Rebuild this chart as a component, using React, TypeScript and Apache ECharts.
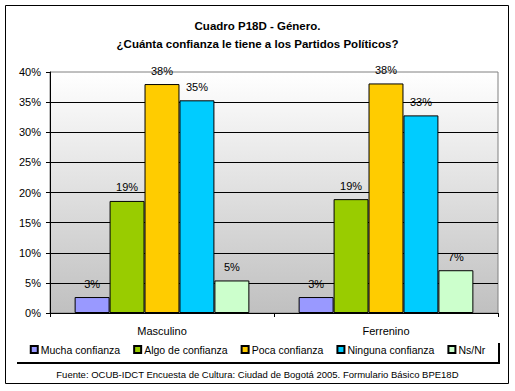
import React, { useEffect, useRef } from "react";
import * as echarts from "echarts";

const categories = ["Masculino", "Ferrenino"];
const seriesNames = ["Mucha confianza", "Algo de confianza", "Poca confianza", "Ninguna confianza", "Ns/Nr"];
const mucha = [2.65, 2.65];
const algo = [18.6, 18.9];
const poca = [38.0, 38.1];
const ninguna = [35.3, 32.8];
const nsnr = [5.4, 7.1];
const seriesValues = [mucha, algo, poca, ninguna, nsnr];
const seriesColors = ["#9999FF", "#99CC00", "#FFCC00", "#00CCFF", "#CCFFCC"];
const titleLines = ["Cuadro P18D - Género.", "¿Cuánta confianza le tiene a los Partidos Políticos?"];
const footer = "Fuente: OCUB-IDCT Encuesta de Cultura: Ciudad de Bogotá 2005. Formulario Básico BPE18D";

const FONT = "Arial, 'Liberation Sans', sans-serif";

export default function App() {
  const ref = useRef<HTMLDivElement>(null);
  useEffect(() => {
    document.body.style.margin = "0";
    const chart = echarts.init(ref.current!, null, { renderer: "svg" });
    chart.setOption({
      animation: false,
      backgroundColor: "#ffffff",
      textStyle: { fontFamily: FONT },
      title: {
        text: titleLines.join("\n"),
        left: "center",
        top: 12,
        textStyle: { fontFamily: FONT, fontSize: 11.5, fontWeight: "bold", color: "#000", lineHeight: 18 },
      },
      grid: {
        left: 50,
        right: 17,
        top: 72,
        bottom: 78,
        show: true,
        borderColor: "#808080",
        borderWidth: 1,
        backgroundColor: new echarts.graphic.LinearGradient(0, 0, 0, 1, [
          { offset: 0, color: "#ffffff" },
          { offset: 1, color: "#c0c0c0" },
        ]),
      },
      legend: {
        data: seriesNames,
        left: "center",
        top: 342,
        itemWidth: 7,
        itemHeight: 7,
        itemGap: 13,
        padding: [2, 6],
        icon: "rect",
        textStyle: { fontFamily: FONT, fontSize: 10.5, color: "#000", padding: [0, 0, 0, -2] },
      },
      xAxis: {
        type: "category",
        data: categories,
        axisLine: { lineStyle: { color: "#000", width: 1 } },
        axisTick: { show: true, length: 4, lineStyle: { color: "#000" } },
        axisLabel: { color: "#000", fontSize: 11, fontFamily: FONT, margin: 12 },
      },
      yAxis: {
        type: "value",
        min: 0,
        max: 40,
        interval: 5,
        axisLine: { show: true, lineStyle: { color: "#000" } },
        axisTick: { show: true, length: 4, lineStyle: { color: "#000" } },
        axisLabel: { color: "#000", fontSize: 11, fontFamily: FONT, margin: 9, formatter: "{value}%" },
        splitLine: { show: true, showMaxLine: false, lineStyle: { color: "#000", width: 1 } },
      },
      series: seriesNames.map((name, i) => ({
        name,
        type: "bar",
        data: seriesValues[i],
        barGap: "0%",
        barCategoryGap: "22%",
        itemStyle: { color: seriesColors[i], borderColor: "#000", borderWidth: 1 },
        label: {
          show: true,
          position: "top",
          distance: 8,
          color: "#000",
          fontSize: 11,
          fontFamily: FONT,
          formatter: (p: any) => Math.round(p.value) + "%",
        },
      })),
      graphic: [
        {
          type: "rect",
          shape: { x: 5.5, y: 5.5, width: 503, height: 378 },
          style: { fill: "none", stroke: "#000", lineWidth: 1 },
          silent: true,
        },
        {
          type: "line",
          shape: { x1: 17, y1: 363, x2: 500, y2: 363 },
          style: { stroke: "#000", lineWidth: 2 },
          silent: true,
        },
        {
          type: "line",
          shape: { x1: 499, y1: 343, x2: 499, y2: 364 },
          style: { stroke: "#000", lineWidth: 2 },
          silent: true,
        },
        {
          type: "text",
          left: "center",
          top: 369,
          style: { text: footer, fontFamily: FONT, fontSize: 9.5, fill: "#000" },
        },
      ],
    });
    return () => chart.dispose();
  }, []);
  return <div ref={ref} style={{ position: "fixed", left: 0, top: 0, width: 515, height: 391 }} />;
}
